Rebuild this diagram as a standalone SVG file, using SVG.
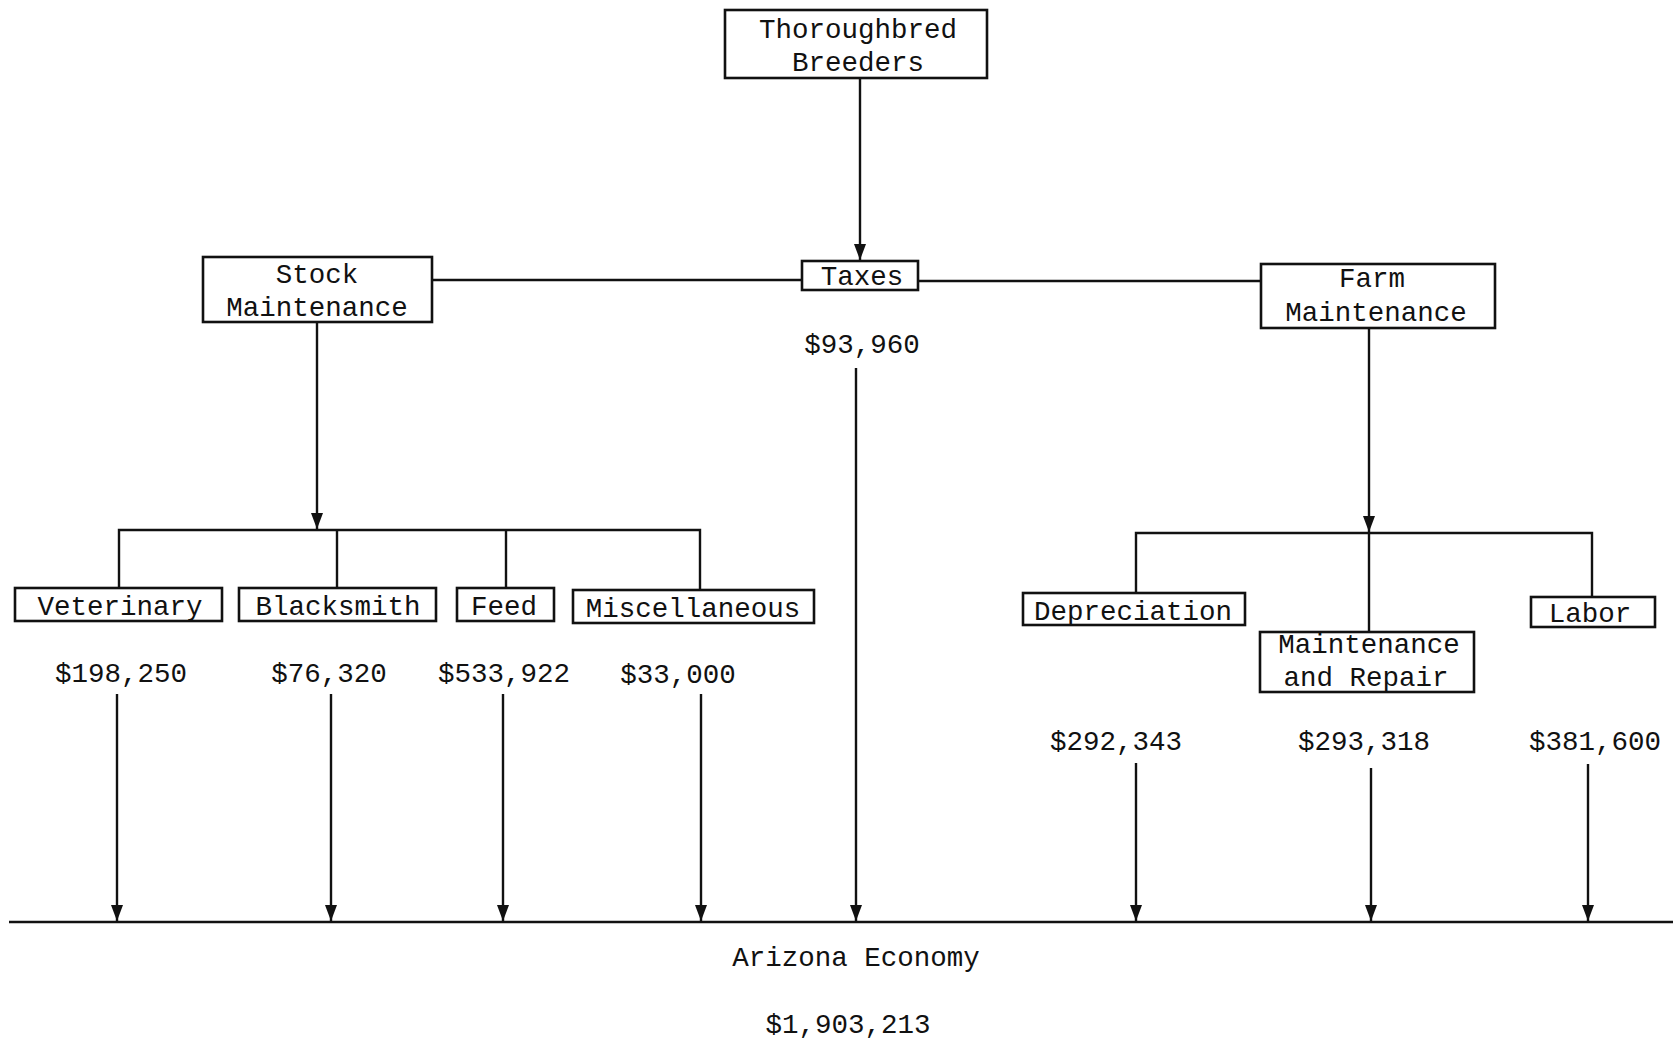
<svg xmlns="http://www.w3.org/2000/svg" width="1673" height="1040" viewBox="0 0 1673 1040">
<style>
.box{fill:#fff;stroke:#111;stroke-width:2.6}
.t{font-family:"Liberation Mono","Courier New",monospace;font-size:27.5px;fill:#111;text-anchor:middle}
.c{fill:none;stroke:#111;stroke-width:2.4}
</style>
<defs>
<marker id="ah" markerUnits="userSpaceOnUse" markerWidth="18" markerHeight="14" refX="16" refY="6" orient="auto" viewBox="0 0 18 12">
<path d="M0,0 L16,6 L0,12 Z" fill="#111"/>
</marker>
</defs>
<rect width="1673" height="1040" fill="#fff"/>
<g id="connectors">
<line class="c" x1="860" y1="78" x2="860" y2="260" marker-end="url(#ah)"/>
<line class="c" x1="432" y1="280" x2="802" y2="280"/>
<line class="c" x1="918" y1="281" x2="1261" y2="281"/>
<line class="c" x1="317" y1="322" x2="317" y2="529" marker-end="url(#ah)"/>
<polyline class="c" points="119,588 119,530 700,530 700,590"/>
<line class="c" x1="337" y1="530" x2="337" y2="588"/>
<line class="c" x1="506" y1="530" x2="506" y2="588"/>
<line class="c" x1="1369" y1="328" x2="1369" y2="532" marker-end="url(#ah)"/>
<polyline class="c" points="1136,593 1136,533 1592,533 1592,597"/>
<line class="c" x1="1369" y1="533" x2="1369" y2="632"/>
<line class="c" x1="9" y1="922" x2="1673" y2="922"/>
<line class="c" x1="117" y1="694" x2="117" y2="921" marker-end="url(#ah)"/>
<line class="c" x1="331" y1="694" x2="331" y2="921" marker-end="url(#ah)"/>
<line class="c" x1="503" y1="694" x2="503" y2="921" marker-end="url(#ah)"/>
<line class="c" x1="701" y1="694" x2="701" y2="921" marker-end="url(#ah)"/>
<line class="c" x1="856" y1="368" x2="856" y2="921" marker-end="url(#ah)"/>
<line class="c" x1="1136" y1="763" x2="1136" y2="921" marker-end="url(#ah)"/>
<line class="c" x1="1371" y1="768" x2="1371" y2="921" marker-end="url(#ah)"/>
<line class="c" x1="1588" y1="764" x2="1588" y2="921" marker-end="url(#ah)"/>
</g>
<g id="thoroughbred">
<rect class="box" x="725" y="10" width="262" height="68"/>
<text class="t" x="858" y="38">Thoroughbred</text>
<text class="t" x="858" y="71">Breeders</text>
</g>
<g id="stock">
<rect class="box" x="203" y="257" width="229" height="65"/>
<text class="t" x="317" y="283">Stock</text>
<text class="t" x="317" y="316">Maintenance</text>
</g>
<g id="taxes">
<rect class="box" x="802" y="261" width="116" height="29"/>
<text class="t" x="862" y="285">Taxes</text>
<text class="t" x="862" y="353">$93,960</text>
</g>
<g id="farm">
<rect class="box" x="1261" y="264" width="234" height="64"/>
<text class="t" x="1372" y="287">Farm</text>
<text class="t" x="1376" y="321">Maintenance</text>
</g>
<g id="veterinary">
<rect class="box" x="15" y="588" width="207" height="33"/>
<text class="t" x="120" y="615">Veterinary</text>
<text class="t" x="121" y="682">$198,250</text>
</g>
<g id="blacksmith">
<rect class="box" x="239" y="588" width="197" height="33"/>
<text class="t" x="338" y="615">Blacksmith</text>
<text class="t" x="329" y="682">$76,320</text>
</g>
<g id="feed">
<rect class="box" x="457" y="588" width="97" height="33"/>
<text class="t" x="504" y="615">Feed</text>
<text class="t" x="504" y="682">$533,922</text>
</g>
<g id="misc">
<rect class="box" x="573" y="590" width="241" height="33"/>
<text class="t" x="693" y="617">Miscellaneous</text>
<text class="t" x="678" y="683">$33,000</text>
</g>
<g id="depreciation">
<rect class="box" x="1023" y="593" width="222" height="32"/>
<text class="t" x="1133" y="620">Depreciation</text>
<text class="t" x="1116" y="750">$292,343</text>
</g>
<g id="maintrepair">
<rect class="box" x="1260" y="632" width="214" height="60"/>
<text class="t" x="1369" y="653">Maintenance</text>
<text class="t" x="1366" y="686">and Repair</text>
<text class="t" x="1364" y="750">$293,318</text>
</g>
<g id="labor">
<rect class="box" x="1531" y="597" width="124" height="30"/>
<text class="t" x="1590" y="622">Labor</text>
<text class="t" x="1595" y="750">$381,600</text>
</g>
<g id="arizona">
<text class="t" x="856" y="966">Arizona Economy</text>
<text class="t" x="848" y="1033">$1,903,213</text>
</g>
</svg>
